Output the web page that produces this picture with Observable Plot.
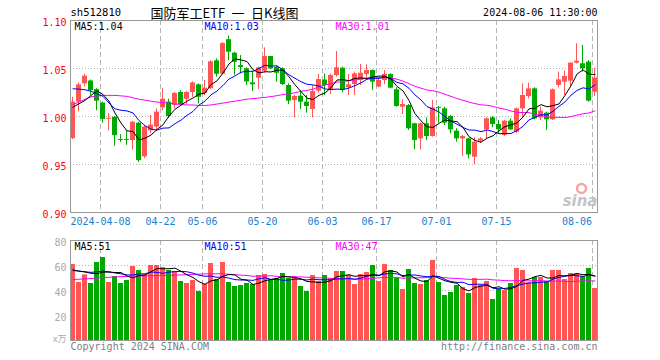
<!DOCTYPE html>
<html><head><meta charset="utf-8">
<script src="https://cdn.jsdelivr.net/npm/d3@7"></script>
<script src="https://cdn.jsdelivr.net/npm/@observablehq/plot@0.6"></script>
<style>
body{margin:0;background:#fff;}
#wrap{position:relative;width:660px;height:360px;overflow:hidden;background:#fff;}
#wrap svg{position:absolute;left:0;}
</style></head><body><div id="wrap"></div>
<script>
const dates = ["2024-03-28","2024-03-29","2024-04-01","2024-04-02","2024-04-03","2024-04-08","2024-04-09","2024-04-10","2024-04-11","2024-04-12",
"2024-04-15","2024-04-16","2024-04-17","2024-04-18","2024-04-19","2024-04-22","2024-04-23","2024-04-24","2024-04-25","2024-04-26",
"2024-04-29","2024-04-30","2024-05-06","2024-05-07","2024-05-08","2024-05-09","2024-05-10","2024-05-13","2024-05-14","2024-05-15",
"2024-05-16","2024-05-17","2024-05-20","2024-05-21","2024-05-22","2024-05-23","2024-05-24","2024-05-27","2024-05-28","2024-05-29",
"2024-05-30","2024-05-31","2024-06-03","2024-06-04","2024-06-05","2024-06-06","2024-06-07","2024-06-11","2024-06-12","2024-06-13",
"2024-06-14","2024-06-17","2024-06-18","2024-06-19","2024-06-20","2024-06-21","2024-06-24","2024-06-25","2024-06-26","2024-06-27",
"2024-06-28","2024-07-01","2024-07-02","2024-07-03","2024-07-04","2024-07-05","2024-07-08","2024-07-09","2024-07-10","2024-07-11",
"2024-07-12","2024-07-15","2024-07-16","2024-07-17","2024-07-18","2024-07-19","2024-07-22","2024-07-23","2024-07-24","2024-07-25",
"2024-07-26","2024-07-29","2024-07-30","2024-07-31","2024-08-01","2024-08-02","2024-08-05","2024-08-06"];

const open = [0.977,1.015,1.034,1.037,1.028,1.014,0.997,0.999,0.976,0.976,
0.975,0.993,0.958,0.985,0.989,1.009,1.015,1.0115,1.025,1.018,
1.025,1.033,1.024,1.029,1.058,1.044,1.080,1.066,1.053,1.0497,
1.035,1.040,1.0472,1.0625,1.0514,1.0497,1.0323,1.0167,1.0212,1.0149,
1.0073,1.0264,1.038,1.0278,1.0427,1.0503,1.030,1.0333,1.0375,1.0438,
1.0479,1.0306,1.0375,1.0438,1.0278,1.0097,1.0115,0.9924,0.9767,0.9924,
0.9792,1.0095,1.008,1.000,0.9847,0.9767,0.9767,0.9576,0.9743,0.9861,
0.9986,0.9917,0.9802,0.9951,0.9837,1.008,1.0208,1.0288,0.9986,1.0035,
0.9965,1.0323,1.0358,1.0368,1.0556,1.0549,1.0566,1.0253];
const high = [1.020,1.035,1.044,1.038,1.029,1.015,1.003,1.000,0.981,0.985,
0.995,0.994,0.990,1.001,1.008,1.029,1.018,1.025,1.027,1.026,
1.036,1.034,1.0375,1.058,1.060,1.077,1.084,1.067,1.0635,1.0507,
1.047,1.0514,1.0715,1.0625,1.052,1.0507,1.034,1.022,1.027,1.0219,
1.032,1.0438,1.0444,1.0444,1.0677,1.0514,1.0438,1.0462,1.0542,1.0538,
1.0486,1.0392,1.0479,1.0444,1.0299,1.0174,1.0125,0.9931,0.9931,0.9986,
1.0167,1.0104,1.0097,1.001,0.9872,0.9802,0.9774,0.9778,0.978,0.9986,
1.000,0.9958,0.9958,0.9976,1.009,1.034,1.0347,1.0299,1.0097,1.0045,
1.0288,1.0462,1.0472,1.0559,1.0757,1.074,1.0583,1.050];
const low = [0.976,1.005,1.031,1.022,1.006,0.993,0.985,0.969,0.973,0.970,
0.965,0.952,0.956,0.982,0.985,1.006,0.998,1.008,1.0115,1.0125,
1.020,1.013,1.022,1.028,1.041,1.044,1.058,1.043,1.0444,1.0323,
1.026,1.028,1.045,1.0486,1.0358,1.0323,1.0125,0.9986,1.0073,1.0035,
0.9986,1.0243,1.0219,1.0229,1.041,1.0247,1.0219,1.0219,1.0323,1.040,
1.0271,1.0299,1.0333,1.0288,1.0097,1.0021,0.9854,0.9653,0.9653,0.975,
0.9785,0.9931,0.9906,0.9819,0.9733,0.9583,0.9559,0.950,0.972,0.9767,
0.9882,0.9819,0.9792,0.9854,0.9819,0.9986,1.0184,0.9965,0.9958,0.9854,
0.9958,1.0299,1.0219,1.0312,1.0549,1.0462,1.0149,1.0208];
const close = [1.015,1.033,1.042,1.027,1.016,0.997,0.998,0.980,0.975,0.975,
0.994,0.954,0.989,0.991,1.0045,1.018,1.000,1.024,1.0125,1.025,
1.035,1.020,1.0295,1.057,1.044,1.076,1.067,1.0565,1.051,1.036,
1.033,1.0507,1.0625,1.0497,1.0451,1.0333,1.016,1.0208,1.0149,1.0104,
1.026,1.0385,1.0323,1.0427,1.0507,1.0278,1.033,1.0444,1.0451,1.0479,
1.0358,1.0375,1.0438,1.0295,1.0104,1.0125,0.9872,0.975,0.9924,0.9792,
1.009,1.0085,0.9931,0.9861,0.9767,0.9792,0.960,0.9733,0.9767,0.9976,
0.9917,0.9861,0.9951,0.9861,1.008,1.0219,1.0288,0.9976,1.0056,0.9965,
1.0278,1.0382,1.0417,1.0556,1.0576,1.0497,1.016,1.040];
const volume = [60.8,46.4,52.5,45.6,62.4,66.4,46.4,51.2,45.6,48,
59.2,56,52.5,60,60,58.4,56,55.2,47.2,45.6,
48,39.2,44.8,61.6,48.8,62.4,46.4,43.2,44,45.6,
44.8,52,52.8,48.8,49.6,53.6,49.6,50.4,43.2,39.2,
52,47.2,52,49.3,55.2,55.2,52,44.8,52.8,54.4,
60,47.2,60.8,56,49.9,40.8,56.8,45.6,44.8,48,
64,46.4,36,38.4,44,42.4,37.6,49.6,44,47.2,
32.8,41.3,40,45.6,57.6,56,46.1,50.4,50.4,47.2,
56,56,48.8,53.6,53.6,51.2,57.6,41.6];
const ma5 = [1.0097,1.0132,1.0167,1.0219,1.0266,1.023,1.016,1.0036,0.9932,0.985,
0.9844,0.9756,0.9774,0.9806,0.9865,0.9913,1.0005,1.0075,1.0118,1.0159,
1.0193,1.0233,1.0244,1.0333,1.0371,1.0453,1.0547,1.0601,1.0589,1.0573,
1.0487,1.0454,1.0466,1.0464,1.0482,1.0483,1.0413,1.033,1.026,1.0191,
1.0176,1.0221,1.0244,1.030,1.038,1.0384,1.0373,1.0397,1.0402,1.0396,
1.0412,1.0421,1.042,1.0389,1.0314,1.0267,1.0167,1.0029,0.9955,0.9893,
0.9886,0.9928,0.9964,0.9952,0.9947,0.9887,0.979,0.9751,0.9732,0.9774,
0.9799,0.9851,0.9894,0.9913,0.9934,0.9994,1.008,1.0085,1.0124,1.0101,
1.0113,1.0131,1.022,1.032,1.0442,1.0486,1.0441,1.0438];
const ma10 = [1.0289,1.0285,1.0278,1.0264,1.0236,1.021,1.014,1.008,1.0065,
1.0058,1.0037,0.9958,0.9905,0.9869,0.9858,0.9879,0.9881,0.9925,0.9962,
1.0012,1.0053,1.0119,1.016,1.0226,1.0265,1.0323,1.039,1.0423,1.0461,
1.0472,1.047,1.0501,1.0534,1.0526,1.0528,1.0485,1.0434,1.0398,1.0362,
1.0336,1.0329,1.0317,1.0287,1.028,1.0286,1.028,1.0297,1.0321,1.0351,
1.0388,1.0398,1.0397,1.0409,1.0396,1.0355,1.034,1.0294,1.0225,1.0172,
1.0103,1.0077,1.0048,0.9997,0.9953,0.992,0.9886,0.9859,0.9858,0.9842,
0.986,0.9843,0.9821,0.9823,0.9823,0.9854,0.9897,0.9965,0.999,1.0019,
1.0017,1.0054,1.0106,1.0152,1.0222,1.0271,1.0299,1.0286,1.0329];
const ma30 = [1.0125,1.015,1.018,1.0205,1.0215,1.022,1.022,1.022,1.0215,1.021,
1.0195,1.018,1.017,1.016,1.015,1.0145,1.014,1.013,1.0125,1.012,
1.012,1.0115,1.0115,1.012,1.013,1.014,1.015,1.016,1.017,
1.0181,1.0187,1.0193,1.0199,1.0207,1.0217,1.0229,1.0235,1.0248,1.0262,
1.0273,1.0284,1.0312,1.0327,1.0344,1.0359,1.0363,1.0374,1.038,1.0391,
1.0399,1.0399,1.0405,1.041,1.0401,1.0389,1.0368,1.0342,1.0315,1.0295,
1.0276,1.0268,1.0254,1.0231,1.021,1.0187,1.0169,1.015,1.0134,1.0122,
1.0117,1.0106,1.0088,1.0076,1.0057,1.0043,1.0041,1.004,1.0024,1.0011,
0.9994,0.9991,0.9991,0.999,0.9999,1.0015,1.0027,1.0037,1.0059];
const vma5 = [56.5,55.5,54.8,53.8,53.5,54.7,54.7,54.4,54.4,51.5,
50.1,52,52.3,55.1,57.5,57.4,57.4,57.9,55.4,52.5,
50.4,47,45,47.8,48.5,51.4,52.8,52.5,49,48.3,
44.8,45.9,47.8,48.8,49.6,51.4,50.9,50.4,49.3,47.2,
46.9,46.4,46.7,47.9,51.1,51.8,52.7,51.3,52,51.8,
52.8,51.8,55,55.7,54.8,50.9,52.9,49.8,47.6,47.2,
51.8,49.8,47.8,46.6,45.8,41.4,39.7,42.4,43.5,44.2,
42.2,43,41.1,41.4,43.5,48.1,49.1,51.1,52.1,50,
50,52,51.7,52.3,53.6,52.6,53,51.5];
const vma10 = [56,55.5,55,54.5,55,55.5,55,54,53.3,
52.5,52.4,53.3,53.3,54.8,54.5,53.7,54.7,55.1,55.3,
55,53.9,52.2,51.4,51.6,50.5,50.9,49.9,48.7,48.4,
48.4,48.1,49.4,50.2,48.9,49,48.1,48.4,49.1,49,
48.4,49.1,48.6,48.6,48.6,49.2,49.3,49.6,49,50,
51.5,52.3,52.3,53.2,53.8,53.3,51.9,52.4,52.4,51.6,
51,51.4,51.3,48.8,47.1,46.5,46.6,44.7,45.1,45,
45,41.8,41.3,41.7,42.5,43.8,45.2,46,46.1,46.7,
46.7,49.1,50.5,51.4,52.2,51.8,51.3,52.5,51.6];
const vma30 = [48.8,49,49.3,49.6,49.9,50.3,50.6,50.9,51.1,51.3,
51.5,51.6,51.7,51.8,51.9,52,52.1,52.3,52.5,52.7,
52.9,53.1,53.3,53.4,53.4,53.3,53,52.6,52.3,
52,51.4,51.6,51.6,51.8,51.3,50.9,51,51,50.9,
50.6,50.4,50.1,50.1,49.7,49.5,49.4,49.3,49,49.1,
49.4,49.8,50.1,50.6,50.4,50.5,49.8,50.1,50.2,50.2,
50.3,50.9,50.7,50.2,49.8,49.7,49.3,48.9,48.9,48.9,
49.1,48.5,48.3,47.9,47.8,47.9,47.9,47.7,47.9,47.8,
47.6,47.4,47.7,47.3,47.2,47.4,47.7,47.7,47.6];

const tickDates = ["2024-04-08","2024-04-22","2024-05-06","2024-05-20","2024-06-03","2024-06-17","2024-07-01","2024-07-15","2024-08-06"];
const tickLabels = ["2024-04-08","04-22","05-06","05-20","06-03","06-17","07-01","07-15","08-06"];
const priceTicks = [0.90,0.95,1.00,1.05,1.10];
const priceGrid = [0.95,1.00,1.05];
const volTicks = [20,40,60,80];
const volGrid = [20,40,60];

const RED = "#ff5555", GREEN = "#00a800", BLUE = "#0000ff", MAG = "#ff00ff";
const GRID = "#b4b4b4", FRAME = "#9a9a9a";
const MONO = "'DejaVu Sans Mono', 'Liberation Mono', monospace";
const CJK = "'Noto Sans CJK SC', sans-serif";

const rows = dates.map((date, i) => ({date, open: open[i], high: high[i], low: low[i], close: close[i],
  vol: volume[i], ma5: ma5[i], ma10: ma10[i], ma30: ma30[i], vma5: vma5[i], vma10: vma10[i], vma30: vma30[i]}));
const col = d => d.close >= d.open ? RED : GREEN;
const last = rows.length - 1;
const lastTick = tickDates.length - 1;
const xOpt = {type: "band", domain: dates, paddingInner: 1/6, paddingOuter: 0, align: 0, axis: null};
const common = {width: 660, marginLeft: 70, marginRight: 63,
  style: {fontFamily: MONO, fontSize: "10px", background: "transparent", overflow: "visible"}};

const main = Plot.plot({
  ...common, height: 232, marginTop: 20, marginBottom: 20,
  x: xOpt,
  y: {domain: [0.9, 1.1], axis: null},
  marks: [
    Plot.ruleY(priceGrid, {y: d => d, stroke: GRID, strokeDasharray: "1,2"}),
    Plot.ruleX(tickDates, {x: d => d, dx: -2.5, stroke: GRID, strokeDasharray: "5,3"}),
    Plot.ruleX(rows, {x: "date", y1: "low", y2: "high", stroke: col, dx: -0.5}),
    Plot.barY(rows, {x: "date", y1: "open", y2: "close", fill: col}),
    Plot.line(rows, {x: "date", y: "ma30", stroke: MAG, strokeWidth: 1}),
    Plot.line(rows, {x: "date", y: "ma10", stroke: BLUE, strokeWidth: 1}),
    Plot.line(rows, {x: "date", y: "ma5", stroke: "#000", strokeWidth: 1}),
    Plot.frame({stroke: FRAME}),
    Plot.text(priceTicks, {y: d => d, text: d => d.toFixed(2), frameAnchor: "left", textAnchor: "end", dx: -4, dy: 2, fill: "#ff0000", fontFamily: MONO, fontSize: 10}),
    Plot.text(tickDates.slice(0, lastTick), {x: d => d, text: (d, i) => tickLabels[i], frameAnchor: "bottom", lineAnchor: "middle", dx: -2.5, dy: 9, fill: "#1a7fd0", fontFamily: MONO, fontSize: 10}),
    Plot.text([tickDates[lastTick]], {x: d => d, text: () => tickLabels[lastTick], frameAnchor: "bottom", lineAnchor: "middle", textAnchor: "end", dx: -3, dy: 9, fill: "#1a7fd0", fontFamily: MONO, fontSize: 10}),
    Plot.text([`MA5:${ma5[last].toFixed(2)}`], {text: d => d, frameAnchor: "top-left", textAnchor: "start", lineAnchor: "top", dx: 4, dy: 2, fill: "#000", fontFamily: MONO, fontSize: 10}),
    Plot.text([`MA10:${ma10[last].toFixed(2)}`], {text: d => d, frameAnchor: "top-left", textAnchor: "start", lineAnchor: "top", dx: 134, dy: 2, fill: BLUE, fontFamily: MONO, fontSize: 10}),
    Plot.text([`MA30:${ma30[last].toFixed(2)}`], {text: d => d, frameAnchor: "top-left", textAnchor: "start", lineAnchor: "top", dx: 265, dy: 2, fill: MAG, fontFamily: MONO, fontSize: 10}),
    Plot.text(["sh512810"], {text: d => d, frameAnchor: "top-left", textAnchor: "start", lineAnchor: "middle", dy: -7.5, fill: "#000", fontFamily: MONO, fontSize: 10.5}),
    Plot.text(["国防军工ETF\u2002一\u2002日K线图"], {text: d => d, frameAnchor: "top-left", textAnchor: "start", lineAnchor: "middle", dx: 80, dy: -7, fill: "#000", fontFamily: CJK, fontSize: 13}),
    Plot.text(["2024-08-06 11:30:00"], {text: d => d, frameAnchor: "top-right", textAnchor: "end", lineAnchor: "middle", dy: -7.5, fill: "#000", fontFamily: MONO, fontSize: 10}),
    Plot.dot(["logo"], {frameAnchor: "bottom-right", dx: -16, dy: -24, r: 4.5, stroke: "#f4a6a6", strokeWidth: 2.5, fill: "none"}),
    Plot.text(["sina"], {text: d => d, frameAnchor: "bottom-right", textAnchor: "end", lineAnchor: "middle", dx: 0, dy: -11, fill: "#c4c4c4", fontFamily: "'DejaVu Sans', sans-serif", fontSize: 15, fontWeight: "bold", fontStyle: "italic"})
  ]
});

const vol = Plot.plot({
  ...common, height: 128, marginTop: 8, marginBottom: 20,
  x: xOpt,
  y: {domain: [0, 80], axis: null},
  marks: [
    Plot.ruleY(volGrid, {y: d => d, stroke: GRID, strokeDasharray: "1,2"}),
    Plot.ruleX(tickDates, {x: d => d, dx: -2.5, stroke: GRID, strokeDasharray: "5,3"}),
    Plot.barY(rows, {x: "date", y: "vol", fill: col}),
    Plot.line(rows, {x: "date", y: "vma30", stroke: MAG, strokeWidth: 1}),
    Plot.line(rows, {x: "date", y: "vma10", stroke: BLUE, strokeWidth: 1}),
    Plot.line(rows, {x: "date", y: "vma5", stroke: "#000", strokeWidth: 1}),
    Plot.frame({stroke: FRAME}),
    Plot.text(volTicks, {y: d => d, text: d => String(d), frameAnchor: "left", textAnchor: "end", dx: -4, dy: 2.5, fill: "#a8a8a8", fontFamily: MONO, fontSize: 10}),
    Plot.text(["x万"], {text: d => d, frameAnchor: "bottom-left", textAnchor: "end", lineAnchor: "middle", dx: -4, dy: -1, fill: "#a8a8a8", fontFamily: CJK, fontSize: 9}),
    Plot.text([`MA5:${Math.floor(vma5[last])}`], {text: d => d, frameAnchor: "top-left", textAnchor: "start", lineAnchor: "top", dx: 4, dy: 2, fill: "#000", fontFamily: MONO, fontSize: 10}),
    Plot.text([`MA10:${Math.floor(vma10[last])}`], {text: d => d, frameAnchor: "top-left", textAnchor: "start", lineAnchor: "top", dx: 134, dy: 2, fill: BLUE, fontFamily: MONO, fontSize: 10}),
    Plot.text([`MA30:${Math.floor(vma30[last])}`], {text: d => d, frameAnchor: "top-left", textAnchor: "start", lineAnchor: "top", dx: 265, dy: 2, fill: MAG, fontFamily: MONO, fontSize: 10}),
    Plot.text(["Copyright 2024 SINA.COM"], {text: d => d, frameAnchor: "bottom-left", textAnchor: "start", lineAnchor: "middle", dy: 6, fill: "#808080", fontFamily: MONO, fontSize: 10}),
    Plot.text(["http://finance.sina.com.cn"], {text: d => d, frameAnchor: "bottom-right", textAnchor: "end", lineAnchor: "middle", dy: 6, fill: "#808080", fontFamily: MONO, fontSize: 10})
  ]
});

const wrap = document.getElementById("wrap");
main.style.top = "0px";
vol.style.top = "232px";
wrap.appendChild(main);
wrap.appendChild(vol);
</script></body></html>
